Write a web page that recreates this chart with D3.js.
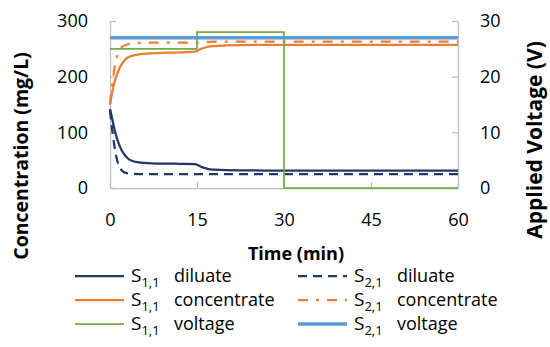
<!DOCTYPE html>
<html>
<head>
<meta charset="utf-8">
<script src="https://cdn.jsdelivr.net/npm/d3@7"></script>
<style>
  body { margin: 0; background: #fff; }
  svg { display: block; font-family: 'Open Sans', sans-serif; }
</style>
</head>
<body>
<svg width="550" height="347"></svg>
<script>
// time (min), value pairs
const s11Diluate = [[0, 142], [0.5, 118], [1, 96], [1.5, 80], [2, 68], [2.5, 60], [3, 54], [4, 48], [5, 46],
  [6, 45], [8, 44], [10, 44], [12, 43.5], [14.6, 43], [15.2, 41], [15.7, 38], [16.3, 36], [17, 34], [18, 33],
  [20, 32], [25, 31.5], [30, 31], [45, 31], [60, 31]]
const s21Diluate = [[0, 140], [0.25, 115], [0.5, 95], [0.75, 76], [1, 61], [1.25, 49], [1.5, 41], [2, 32],
  [2.5, 28], [3, 26.5], [4, 25.5], [6, 25], [15, 25], [30, 25], [60, 25]]
const s11Concentrate = [[0, 150], [0.5, 178], [1, 198], [1.5, 212], [2, 222], [2.5, 229], [3, 234], [4, 238],
  [5, 240], [7, 242], [10, 243], [14.6, 245], [15.2, 247], [15.7, 250], [16.3, 252], [17, 254], [18, 255],
  [20, 256], [25, 257], [60, 257]]
const s21Concentrate = [[0, 150], [0.25, 175], [0.5, 195], [0.75, 214], [1, 229], [1.5, 244], [2, 253],
  [3, 258], [4, 260], [6, 261], [15, 261], [17, 262.5], [20, 263], [60, 263]]
const s11Voltage = [[0, 25], [15, 25], [15, 28], [30, 28], [30, 0], [60, 0]]
const s21Voltage = [[0, 27], [60, 27]]

const xTicks = [0, 15, 30, 45, 60]
const yTicks = [0, 100, 200, 300]
const y2Ticks = [0, 10, 20, 30]

const legendItems = [
  { sub: '1,1', word: 'diluate', color: '#203864', dash: null, width: 2.25 },
  { sub: '2,1', word: 'diluate', color: '#203864', dash: '9,6', width: 2.25 },
  { sub: '1,1', word: 'concentrate', color: '#ED7D31', dash: null, width: 2.25 },
  { sub: '2,1', word: 'concentrate', color: '#ED7D31', dash: '10,8,3,8', width: 2.25 },
  { sub: '1,1', word: 'voltage', color: '#70AD47', dash: null, width: 1.75 },
  { sub: '2,1', word: 'voltage', color: '#5B9BD5', dash: null, width: 3.5 }
]

const svg = d3.select('svg')
const plot = { left: 110, right: 458, top: 21, bottom: 188 }

const x = d3.scaleLinear().domain([0, 60]).range([plot.left, plot.right])
const y = d3.scaleLinear().domain([0, 300]).range([plot.bottom, plot.top])
const y2 = d3.scaleLinear().domain([0, 30]).range([plot.bottom, plot.top])

const styleAxis = g => {
  g.select('.domain').attr('stroke', '#BFBFBF').attr('stroke-width', 1.25)
  g.selectAll('.tick line').attr('stroke', '#BFBFBF').attr('stroke-width', 1.25)
  g.selectAll('.tick text').attr('font-size', 18).attr('fill', '#000')
    .attr('font-family', "'Open Sans', sans-serif")
}

svg.append('g').attr('transform', `translate(0,${plot.bottom})`)
  .call(d3.axisBottom(x).tickValues(xTicks).tickSizeInner(-6).tickSizeOuter(0).tickPadding(25))
  .call(styleAxis)
svg.append('g').attr('transform', `translate(${plot.left},0)`)
  .call(d3.axisLeft(y).tickValues(yTicks).tickSizeInner(-6).tickSizeOuter(0).tickPadding(22))
  .call(styleAxis)
svg.append('g').attr('transform', `translate(${plot.right},0)`)
  .call(d3.axisRight(y2).tickValues(y2Ticks).tickSizeInner(-6).tickSizeOuter(0).tickPadding(22))
  .call(styleAxis)

const smooth = d3.line().x(d => x(d[0])).y(d => y(d[1])).curve(d3.curveMonotoneX)
const stepLine = d3.line().x(d => x(d[0])).y(d => y2(d[1]))

const drawLine = (data, gen, item) => {
  svg.append('path').datum(data)
    .attr('d', gen)
    .attr('fill', 'none')
    .attr('stroke', item.color)
    .attr('stroke-width', item.width)
    .attr('stroke-dasharray', item.dash)
}

drawLine(s11Diluate, smooth, legendItems[0])
drawLine(s21Diluate, smooth, legendItems[1])
drawLine(s11Concentrate, smooth, legendItems[2])
drawLine(s21Concentrate, smooth, legendItems[3])
drawLine(s11Voltage, stepLine, legendItems[4])
drawLine(s21Voltage, stepLine, legendItems[5])

// axis titles
svg.append('text').attr('x', 296).attr('y', 260)
  .attr('text-anchor', 'middle').attr('font-size', 18).attr('font-weight', 'bold')
  .text('Time (min)')
svg.append('text').attr('transform', 'translate(28,156) rotate(-90)')
  .attr('text-anchor', 'middle').attr('font-size', 19.5).attr('font-weight', 'bold')
  .text('Concentration (mg/L)')
svg.append('text').attr('transform', 'translate(542,140) rotate(-90)')
  .attr('text-anchor', 'middle').attr('font-size', 21).attr('font-weight', 'bold')
  .text('Applied Voltage (V)')

// legend
const legend = svg.append('g')
legendItems.forEach((d, i) => {
  const col = i % 2, row = Math.floor(i / 2)
  const lx = col === 0 ? 75 : 298
  const ly = 276 + row * 24
  legend.append('line')
    .attr('x1', lx).attr('x2', lx + 49).attr('y1', ly).attr('y2', ly)
    .attr('stroke', d.color).attr('stroke-width', d.width)
    .attr('stroke-dasharray', d.dash)
  const t = legend.append('text').attr('x', lx + 56).attr('y', ly + 6).attr('font-size', 19)
  t.append('tspan').text('S')
  t.append('tspan').attr('font-size', 13).attr('dy', 5).text(d.sub)
  legend.append('text').attr('x', lx + 99).attr('y', ly + 6).attr('font-size', 18).text(d.word)
})
</script>
</body>
</html>
